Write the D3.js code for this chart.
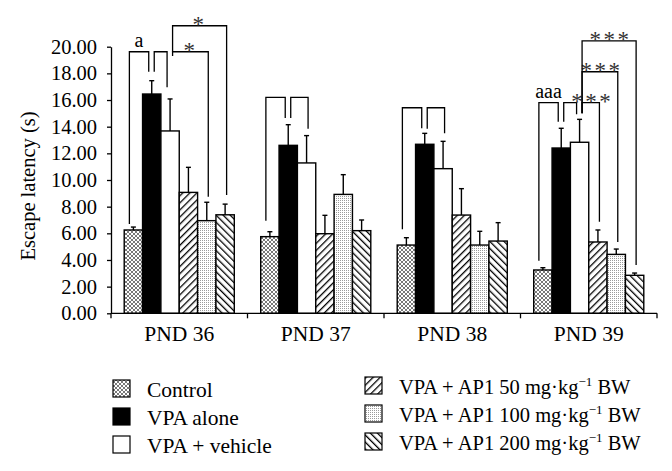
<!DOCTYPE html>
<html><head><meta charset="utf-8">
<script src="https://cdn.jsdelivr.net/npm/d3@7"></script>
<style>body{margin:0;background:#fff}svg{display:block}</style>
</head><body>
<svg id="chart" width="672" height="471"></svg>
<script>
// ---------- data ----------
const categories = ["PND 36", "PND 37", "PND 38", "PND 39"];
const seriesNames = ["Control", "VPA alone", "VPA + vehicle", "VPA + AP1 50", "VPA + AP1 100", "VPA + AP1 200"];
const controlMean   = [6.25, 5.75, 5.12, 3.25];
const vpaAloneMean  = [16.45, 12.60, 12.68, 12.40];
const vehicleMean   = [13.68, 11.28, 10.85, 12.83];
const ap50Mean      = [9.07, 5.97, 7.37, 5.35];
const ap100Mean     = [6.95, 8.92, 5.12, 4.42];
const ap200Mean     = [7.39, 6.20, 5.42, 2.85];
const controlErr    = [0.22, 0.37, 0.55, 0.17];
const vpaAloneErr   = [1.00, 1.55, 0.82, 1.48];
const vehicleErr    = [2.40, 2.05, 2.05, 1.72];
const ap50Err       = [1.88, 1.38, 1.98, 0.90];
const ap100Err      = [1.38, 1.48, 1.03, 0.40];
const ap200Err      = [0.80, 0.80, 1.38, 0.17];
const yTicks = [0, 2, 4, 6, 8, 10, 12, 14, 16, 18, 20];
const yTitle = "Escape latency (s)";
// significance brackets (values in axis units)
const bracketGroup    = [0, 0, 0, 0, 1, 1, 2, 2, 3, 3, 3, 3, 3];
const bracketFrom     = [0, 1, 2, 2, 0, 1, 0, 1, 0, 1, 2, 2, 2];
const bracketTo       = [1, 2, 4, 5, 1, 2, 1, 2, 1, 2, 3, 4, 5];
const bracketTop      = [19.62, 19.62, 19.62, 21.57, 16.2, 16.2, 15.42, 15.42, 15.8, 15.8, 15.8, 18.12, 20.43];
const bracketLeftEnd  = [6.70, 18.12, 19.3, 19.62, 6.95, 14.65, 6.30, 13.85, 3.95, 14.37, 15.0, 15.0, 15.0];
const bracketRightEnd = [18.12, 16.95, 8.75, 8.87, 14.65, 13.85, 13.88, 13.5, 14.37, 14.93, 6.87, 5.35, 3.62];
const bracketLabel    = ["a", "", "*", "*", "", "", "", "", "aaa", "", "***", "***", "***"];
const legendLeft  = ["Control", "VPA alone", "VPA + vehicle"];
const legendRight = ["50", "100", "200"];

const means = [controlMean, vpaAloneMean, vehicleMean, ap50Mean, ap100Mean, ap200Mean];
const errs  = [controlErr, vpaAloneErr, vehicleErr, ap50Err, ap100Err, ap200Err];

// ---------- setup ----------
const svg = d3.select("#chart");
const FONT = "'Liberation Serif', 'Times New Roman', serif";
const defs = svg.append("defs");

function pat(id, w, h, draw, transform) {
  const p = defs.append("pattern").attr("id", id).attr("patternUnits", "userSpaceOnUse")
    .attr("width", w).attr("height", h);
  if (transform) p.attr("patternTransform", transform);
  p.append("rect").attr("width", w).attr("height", h).attr("fill", "#fff");
  draw(p);
}
pat("pCross", 4, 4, p => {
  p.append("path").attr("d", "M0,0L4,4M4,0L0,4").attr("stroke", "#6a6a6a").attr("stroke-width", 0.9);
});
pat("pHatch", 5, 5, p => {
  p.append("line").attr("x1", 0).attr("y1", 0).attr("x2", 0).attr("y2", 5).attr("stroke", "#000").attr("stroke-width", 2.6);
}, "rotate(45)");
pat("pBack", 5, 5, p => {
  p.append("line").attr("x1", 0).attr("y1", 0).attr("x2", 0).attr("y2", 5).attr("stroke", "#000").attr("stroke-width", 2.6);
}, "rotate(-45)");
pat("pDots", 2, 2, p => {
  p.append("rect").attr("width", 1).attr("height", 1).attr("fill", "#9a9a9a");
});
const fills = ["url(#pCross)", "#000", "#fff", "url(#pHatch)", "url(#pDots)", "url(#pBack)"];

const y = d3.scaleLinear().domain([0, 20]).range([313.3, 46.7]);
const x0 = d3.scaleBand().domain(categories).range([111, 657]).padding(0);
const x1 = d3.scaleBand().domain(seriesNames).range([0, x0.bandwidth()]).paddingInner(0).paddingOuter(0.72);
const cx = (g, i) => x0(categories[g]) + x1(seriesNames[i]) + x1.bandwidth() / 2;

// ---------- y axis ----------
const yAxis = svg.append("g").attr("transform", `translate(${x0.range()[0]},0)`)
  .call(d3.axisLeft(y).tickValues(yTicks).tickFormat(d => d.toFixed(2)).tickSize(4).tickSizeOuter(0).tickPadding(10));
yAxis.select(".domain").attr("stroke", "#000").attr("stroke-width", 1.3);
yAxis.selectAll(".tick line").attr("stroke", "#000").attr("stroke-width", 1.3);
yAxis.selectAll(".tick text").attr("font-family", FONT).attr("font-size", 20.5).attr("fill", "#000");

svg.append("text").attr("transform", `translate(35,186) rotate(-90)`)
  .attr("text-anchor", "middle").attr("font-family", FONT).attr("font-size", 20.5).text(yTitle);

// ---------- bars ----------
const barData = [];
categories.forEach((c, g) => seriesNames.forEach((s, i) => barData.push({g, i, v: means[i][g], e: errs[i][g]})));

const gb = svg.append("g");
gb.selectAll("rect.bar").data(barData).enter().append("rect").attr("class", "bar")
  .attr("x", d => x0(categories[d.g]) + x1(seriesNames[d.i]))
  .attr("width", x1.bandwidth())
  .attr("y", d => y(d.v)).attr("height", d => y(0) - y(d.v))
  .attr("fill", d => fills[d.i]).attr("stroke", "#000").attr("stroke-width", 1.4);

const ge = svg.append("g").attr("stroke", "#000").attr("stroke-width", 1.4);
ge.selectAll("line.err").data(barData).enter().append("line")
  .attr("x1", d => cx(d.g, d.i)).attr("x2", d => cx(d.g, d.i))
  .attr("y1", d => y(d.v)).attr("y2", d => y(d.v + d.e));
ge.selectAll("line.cap").data(barData).enter().append("line")
  .attr("x1", d => cx(d.g, d.i) - 2.5).attr("x2", d => cx(d.g, d.i) + 2.5)
  .attr("y1", d => y(d.v + d.e)).attr("y2", d => y(d.v + d.e));

// ---------- x axis ----------
const xa = svg.append("g").attr("stroke", "#000").attr("stroke-width", 1.3);
xa.append("line").attr("x1", x0.range()[0]).attr("x2", x0.range()[1]).attr("y1", y(0)).attr("y2", y(0));
const bounds = categories.map(c => x0(c)).concat([x0.range()[1]]);
xa.selectAll("line.t").data(bounds).enter().append("line")
  .attr("x1", d => d).attr("x2", d => d).attr("y1", y(0)).attr("y2", y(0) + 5);
svg.selectAll("text.xl").data(categories).enter().append("text")
  .attr("x", d => x0(d) + x0.bandwidth() / 2).attr("y", 341)
  .attr("text-anchor", "middle").attr("font-family", FONT).attr("font-size", 21.5).text(d => d);

// ---------- brackets ----------
const gbk = svg.append("g");
bracketGroup.forEach((g, k) => {
  const f = bracketFrom[k], t = bracketTo[k];
  const fromShared = bracketTo.some((tt, j) => bracketGroup[j] === g && tt === f);
  const toShared = bracketFrom.some((ff, j) => bracketGroup[j] === g && ff === t);
  const xl = cx(g, f) + (fromShared ? 2.5 : -4);
  const xr = cx(g, t) + (toShared ? -3 : 1.5);
  const yt = y(bracketTop[k]);
  gbk.append("path")
    .attr("d", `M${xl},${y(bracketLeftEnd[k])}V${yt}H${xr}V${y(bracketRightEnd[k])}`)
    .attr("fill", "none").attr("stroke", "#000").attr("stroke-width", 1.3);
  const lab = bracketLabel[k];
  if (lab) {
    const star = lab.includes("*");
    gbk.append("text").attr("x", (xl + xr) / 2 + (star && lab.length > 1 ? 1.5 : 0)).attr("y", star ? yt + 6 : yt - 5)
      .attr("text-anchor", "middle").attr("font-family", FONT)
      .attr("letter-spacing", star ? 2.5 : 0)
      .attr("font-size", star ? 23 : 20).attr("fill", star ? "#333" : "#000").text(lab);
  }
});

// ---------- legend ----------
const lg = svg.append("g");
legendLeft.forEach((name, i) => {
  lg.append("rect").attr("x", 113).attr("y", 380 + i * 28).attr("width", 17).attr("height", 17)
    .attr("fill", fills[i]).attr("stroke", "#000").attr("stroke-width", 1.2);
  lg.append("text").attr("x", 147).attr("y", 397 + i * 28).attr("font-family", FONT).attr("font-size", 21.5).text(name);
});
legendRight.forEach((dose, i) => {
  lg.append("rect").attr("x", 365).attr("y", 377 + i * 28).attr("width", 17).attr("height", 17)
    .attr("fill", fills[3 + i]).attr("stroke", "#000").attr("stroke-width", 1.2);
  const t = lg.append("text").attr("x", 399).attr("y", 394 + i * 28).attr("font-family", FONT).attr("font-size", 20.5);
  t.append("tspan").text(`VPA + AP1 ${dose} mg·kg`);
  t.append("tspan").attr("dy", -8).attr("font-size", 13).text("−1");
  t.append("tspan").attr("dy", 8).text(" BW");
});
</script>
</body></html>
